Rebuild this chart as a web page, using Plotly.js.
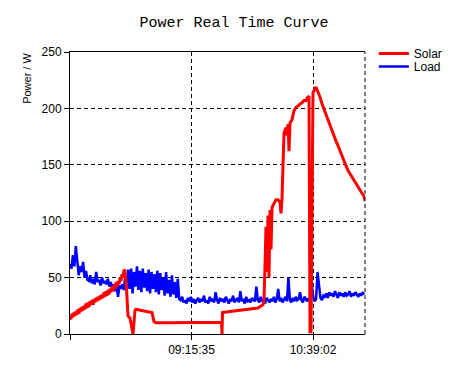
<!DOCTYPE html>
<html>
<head>
<meta charset="utf-8">
<script src="https://cdn.plot.ly/plotly-3.0.1.min.js"></script>
<style>html,body{margin:0;padding:0;background:#fff;}#chart{width:471px;height:377px;}</style>
</head>
<body>
<div id="chart"></div>
<script>
// Time axis: minutes since 07:52:08
const tickValues = [0, 83.45, 166.9];
const tickLabels = ['', '09:15:35', '10:39:02'];
const xEnd = 202.6;

// Solar (W) sample times (min) and values
const solarTime = [
  0, 0.69, 1.37, 2.06, 2.75, 3.43, 4.12, 4.81, 5.49, 6.18, 6.87, 7.55, 8.24, 8.93, 9.62, 10.3, 10.99, 11.68, 12.36, 13.05,
  13.74, 14.42, 15.11, 15.8, 16.48, 17.17, 17.86, 18.54, 19.23, 19.92, 20.6, 21.29, 21.98, 22.66, 23.35, 24.04, 24.72, 25.41, 26.1, 26.78,
  27.47, 28.16, 28.85, 29.53, 30.22, 30.91, 31.59, 32.28, 32.97, 33.65, 34.34, 35.03, 35.71, 36.4, 37.09,
  37.77, 38.46, 39.15, 39.83, 41.21, 42.58, 43.27, 44.64, 45.33, 48.08, 51.51, 54.94, 56.32, 57.69, 59.06, 68.68, 82.42, 96.15,
  104.05, 104.39, 104.74, 109.89, 116.76, 123.62, 129.12, 132.55, 133.24, 133.93, 134.61, 135.3, 135.99, 136.67, 137.36, 138.05,
  138.74, 139.42, 140.11, 141.48, 142.85, 144.23, 144.91, 145.6, 146.29, 146.98, 148.35, 149.03, 149.72, 150.41, 151.1, 152.47,
  153.84, 155.22, 156.59, 157.96, 159.34, 160.71, 162.08, 162.77, 164.15, 164.83, 165.52, 166.21, 166.89,
  168.95, 170.33, 171.7, 173.07, 174.45, 175.82, 177.19, 178.57, 179.94, 181.31, 182.69, 184.06, 185.44, 186.81, 188.18,
  189.56, 190.93, 192.3, 193.68, 195.05, 196.42, 197.8, 199.17, 200.54, 201.92, 202.61
];
const solarPower = [
  16, 13, 18, 15, 19, 16, 20, 17, 22, 18, 23, 20, 24, 21, 25, 22, 27, 23, 28, 24,
  29, 26, 30, 26, 31, 28, 32, 29, 33, 30, 34, 31, 35, 32, 37, 33, 38, 34, 39, 35,
  40, 37, 42, 38, 43, 40, 46, 42, 47, 44, 50, 47, 53, 50, 57,
  56, 48, 30, 16, 14, 3, 0, 21, 22, 21, 20, 19, 19, 11, 10, 10, 10, 10.5,
  10.5, 0, 19, 20, 21, 22, 23, 26, 30, 60, 95, 55, 105, 50, 110, 75,
  112, 114, 116, 119, 119, 117, 107, 120, 150, 178, 183, 176, 186, 162, 187, 190,
  198, 201, 202, 204, 205, 207, 207, 209, 211, 2, 2, 165, 214,
  219, 215, 210, 204, 199, 194, 190, 184, 180, 176, 171, 167, 162, 158, 153,
  149, 145, 142, 139, 137, 134, 131, 128, 125, 122, 118
];

// Load (W), sampled once per minute from 07:52:08
const loadPower = [
  62, 58, 70, 60, 78, 63,
  52, 60, 55, 64, 50, 56, 48,
  47, 52, 45, 49, 44, 55, 46, 48, 43, 50, 45, 47, 44, 49, 42, 46,
  41, 44, 38, 42, 33, 43, 40, 44, 39,
  52, 38, 57, 40, 58, 36, 55, 42, 60, 39, 56, 37, 58, 41, 54, 38, 57, 36, 55, 40,
  53, 37, 56, 35, 54, 39, 50, 34, 55, 36, 48, 33, 52, 35, 46, 32, 49, 31,
  30, 33, 28,
  30, 27, 32, 29, 33, 28, 31, 27, 30, 32,
  28, 31, 29, 34, 28, 30, 27, 33, 29, 31,
  28, 37, 30, 27, 32, 29, 31, 28, 33, 30,
  27, 31, 29, 34, 28, 30, 32, 28, 38, 29,
  31, 27, 33, 29, 30, 28, 32, 30, 29, 42,
  30, 28, 33, 29, 31, 27, 32, 30, 28, 31,
  29, 33, 28, 31, 40, 29, 32, 28, 30, 33,
  29, 50, 30, 28, 32, 29, 33, 30, 31, 37,
  30, 28, 33, 31, 29, 32, 30, 45, 33, 29,
  31, 55, 44, 32, 30, 34, 33, 36, 32, 37,
  34, 36, 33, 38, 35, 32, 37, 34, 36, 33,
  37, 34, 35, 38, 33, 36, 34, 37, 35, 33,
  36, 34, 37, 35
];
const loadTime = loadPower.map((_, i) => i);

const legendFont = {family: 'Liberation Sans, Arial, sans-serif', size: 12, color: '#000'};

const traces = [
  {x: loadTime, y: loadPower, name: 'Load', mode: 'lines', legend: 'legend2', line: {color: '#0000FF', width: 2.5}},
  {x: solarTime, y: solarPower, name: 'Solar', mode: 'lines', legend: 'legend', line: {color: '#FF0000', width: 3}}
];

const axisFont = {family: 'Liberation Sans, Arial, sans-serif', size: 12, color: '#000'};

const layout = {
  width: 471, height: 377,
  margin: {l: 70, r: 106, t: 52, b: 43},
  paper_bgcolor: '#fff', plot_bgcolor: '#fff',
  title: {text: 'Power Real Time Curve', font: {family: 'Liberation Mono, monospace', size: 15, color: '#000'},
          x: 0.497, xref: 'container', y: 0.943, yref: 'container', yanchor: 'middle'},
  showlegend: true,
  legend: {x: 1.03, y: 1.046, xanchor: 'left', yanchor: 'top', font: legendFont, bgcolor: 'rgba(0,0,0,0)'},
  legend2: {x: 1.03, y: 1.0, xanchor: 'left', yanchor: 'top', font: legendFont, bgcolor: 'rgba(0,0,0,0)'},
  xaxis: {range: [0, xEnd], tickmode: 'array', tickvals: tickValues, ticktext: tickLabels,
          showline: true, linecolor: '#000', linewidth: 1, mirror: true,
          ticks: 'outside', ticklen: 5, tickcolor: '#000',
          showgrid: true, gridcolor: '#000', gridwidth: 1, griddash: '4px,3px',
          zeroline: false, tickfont: axisFont, fixedrange: true},
  yaxis: {range: [0, 250], dtick: 50, tick0: 0,
          showline: true, linecolor: '#000', linewidth: 1,
          ticks: 'outside', ticklen: 5, tickcolor: '#000',
          showgrid: true, gridcolor: '#000', gridwidth: 1, griddash: '4px,3px',
          zeroline: false, tickfont: axisFont, fixedrange: true},
  shapes: [{type: 'line', xref: 'paper', yref: 'paper', x0: 1, x1: 1, y0: 0, y1: 1,
            line: {color: '#000', width: 1, dash: '4px,3px'}}],
  annotations: [{text: 'Power / W', textangle: -90, xref: 'paper', yref: 'paper',
                 x: -0.146, y: 0.908, xanchor: 'center', yanchor: 'middle', showarrow: false,
                 font: {family: 'Liberation Sans, Arial, sans-serif', size: 11, color: '#000'}}]
};

Plotly.newPlot('chart', traces, layout, {displayModeBar: false, staticPlot: true});
</script>
</body>
</html>
